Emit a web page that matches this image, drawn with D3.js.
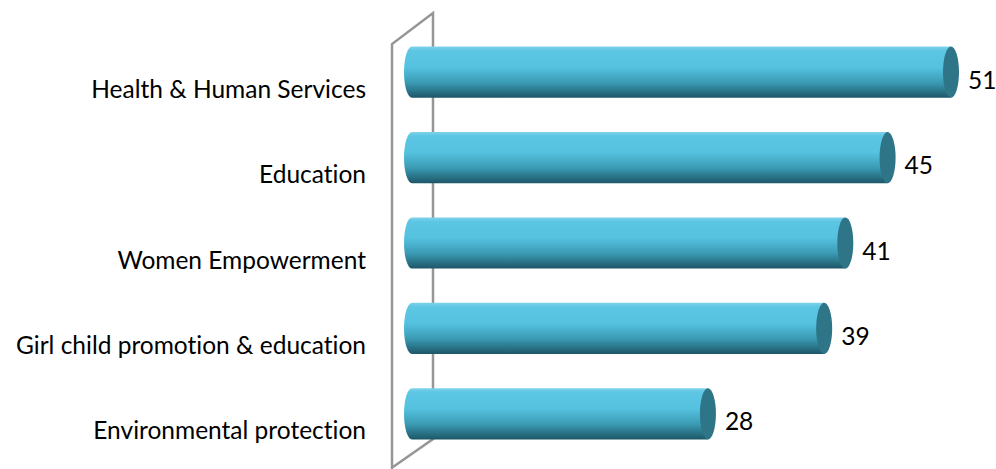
<!DOCTYPE html>
<html><head><meta charset="utf-8">
<script src="https://cdn.jsdelivr.net/npm/d3@7"></script>
<style>body{margin:0;background:#fff}svg{display:block}text{font-variant-ligatures:none;font-feature-settings:"liga" 0,"dlig" 0}</style>
</head><body><svg id="c" width="996" height="469"></svg>
<script>
const categories = ["Health & Human Services","Education","Women Empowerment","Girl child promotion & education","Environmental protection"];
const values = [51,45,41,39,28];

const svg = d3.select("#c");
const x = d3.scaleLinear().domain([0,51]).range([412,951]);
const y = d3.scaleBand().domain(categories).range([29.5,456.5]).paddingInner(0.4).paddingOuter(0.2);

const defs = svg.append("defs");
const g = defs.append("linearGradient").attr("id","cyl").attr("x1",0).attr("y1",0).attr("x2",0).attr("y2",1);
[[0,"#7fd3ea"],[0.08,"#5cc6e3"],[0.4,"#55c2e0"],[0.7,"#3b9bb4"],[1,"#1d5667"]].forEach(([o,c])=>g.append("stop").attr("offset",o).attr("stop-color",c));

// wall
const wall = svg.append("g").attr("fill","none").attr("stroke","#969696").attr("stroke-width",2.5);
wall.append("path").attr("d","M392,469 L392,44 L433,13 L433,439 L393,467");

const rx = 8;
const bars = svg.append("g").selectAll("g").data(categories).join("g");
bars.append("path")
  .attr("d",(d,i)=>{const y0=y(d),h=y.bandwidth(),x0=x(0),x1=x(values[i]);
    return `M${x1},${y0} L${x0},${y0} A${rx},${h/2} 0 0 0 ${x0},${y0+h} L${x1},${y0+h} Z`;})
  .attr("fill","url(#cyl)");
bars.append("ellipse")
  .attr("cx",(d,i)=>x(values[i])).attr("cy",d=>y(d)+y.bandwidth()/2)
  .attr("rx",rx).attr("ry",y.bandwidth()/2).attr("fill","#2e7587");

svg.append("g").selectAll("text").data(categories).join("text")
  .attr("x",366).attr("y",d=>y(d)+y.bandwidth()/2+17).attr("dy","0.35em")
  .attr("text-anchor","end").attr("font-family","Lato, 'Open Sans', sans-serif").attr("font-size",24.5).attr("fill","#000")
  .text(d=>d);

svg.append("g").selectAll("text").data(values).join("text")
  .attr("x",(d)=>x(d)+17).attr("y",(d,i)=>y(categories[i])+y.bandwidth()/2+8).attr("dy","0.35em")
  .attr("font-family","Lato, 'Open Sans', sans-serif").attr("font-size",24.5).attr("fill","#000")
  .text(d=>d);
</script></body></html>
